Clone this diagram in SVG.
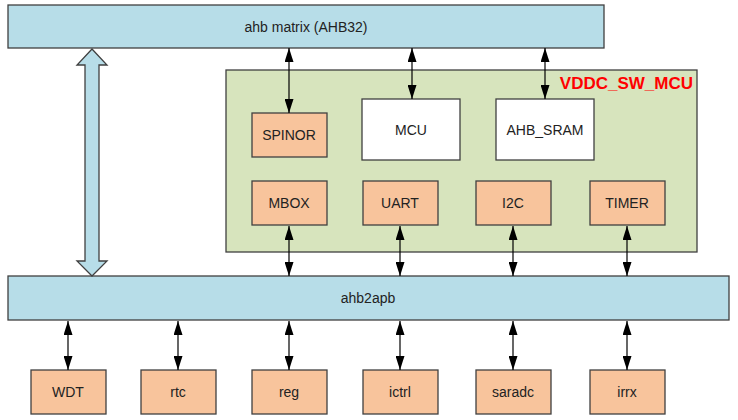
<svg xmlns="http://www.w3.org/2000/svg" width="738" height="420" viewBox="0 0 738 420">
<style>
.bus{fill:#b7dde8;stroke:#404040;stroke-width:1.3}
.per{fill:#f8c49c;stroke:#404040;stroke-width:1.3}
.wht{fill:#ffffff;stroke:#404040;stroke-width:1.3}
.grp{fill:#d7e4bd;stroke:#404040;stroke-width:1.3}
.lbl{font-family:"Liberation Sans",Arial,sans-serif;font-size:14px;fill:#222;text-anchor:middle}
.con{stroke:#000;stroke-width:1.2;fill:none;marker-start:url(#ah);marker-end:url(#ah)}
</style>
<defs>
<marker id="ah" viewBox="0 0 14 9" refX="14" refY="4.5" markerWidth="14" markerHeight="9" markerUnits="userSpaceOnUse" orient="auto-start-reverse">
<path d="M0,0 L14,4.5 L0,9 Z" fill="#000"/>
</marker>
</defs>
<rect width="738" height="420" fill="#fff"/>
<g id="ahb_matrix"><rect class="bus" x="8" y="5" width="596" height="43"/><text class="lbl" x="306" y="32">ahb matrix (AHB32)</text></g>
<g id="vddc_sw_mcu"><rect class="grp" x="226" y="70" width="471" height="182"/><text x="693" y="89" font-family="Liberation Sans,Arial,sans-serif" font-size="17" font-weight="bold" fill="#ff0000" text-anchor="end">VDDC_SW_MCU</text></g>
<g id="spinor"><rect class="per" x="252" y="113" width="75" height="44"/><text class="lbl" x="289" y="140">SPINOR</text></g>
<g id="mcu"><rect class="wht" x="362" y="99" width="98" height="61"/><text class="lbl" x="411" y="135">MCU</text></g>
<g id="ahb_sram"><rect class="wht" x="496" y="99" width="98" height="61"/><text class="lbl" x="545" y="135">AHB_SRAM</text></g>
<g id="mbox"><rect class="per" x="252" y="181" width="75" height="44"/><text class="lbl" x="289" y="208">MBOX</text></g>
<g id="uart"><rect class="per" x="363" y="181" width="75" height="44"/><text class="lbl" x="400" y="208">UART</text></g>
<g id="i2c"><rect class="per" x="476" y="181" width="75" height="44"/><text class="lbl" x="513" y="208">I2C</text></g>
<g id="timer"><rect class="per" x="590" y="181" width="75" height="44"/><text class="lbl" x="627" y="208">TIMER</text></g>
<g id="ahb2apb"><rect class="bus" x="8" y="276" width="721" height="44"/><text class="lbl" x="368" y="303">ahb2apb</text></g>
<g id="wdt"><rect class="per" x="31" y="370" width="75" height="44"/><text class="lbl" x="68" y="397">WDT</text></g>
<g id="rtc"><rect class="per" x="141" y="370" width="75" height="44"/><text class="lbl" x="178" y="397">rtc</text></g>
<g id="reg"><rect class="per" x="252" y="370" width="75" height="44"/><text class="lbl" x="289" y="397">reg</text></g>
<g id="ictrl"><rect class="per" x="363" y="370" width="75" height="44"/><text class="lbl" x="400" y="397">ictrl</text></g>
<g id="saradc"><rect class="per" x="476" y="370" width="75" height="44"/><text class="lbl" x="513" y="397">saradc</text></g>
<g id="irrx"><rect class="per" x="590" y="370" width="75" height="44"/><text class="lbl" x="627" y="397">irrx</text></g>
<g id="connectors">
<path class="bus" d="M92,49 L107,65 L99,65 L99,261 L107,261 L92,276 L77,261 L85,261 L85,65 L77,65 Z"/>
<line class="con" x1="289" y1="48" x2="289" y2="113"/>
<line class="con" x1="412" y1="48" x2="412" y2="99"/>
<line class="con" x1="545" y1="48" x2="545" y2="99"/>
<line class="con" x1="289" y1="226" x2="289" y2="276"/>
<line class="con" x1="400" y1="226" x2="400" y2="276"/>
<line class="con" x1="513" y1="226" x2="513" y2="276"/>
<line class="con" x1="627" y1="226" x2="627" y2="276"/>
<line class="con" x1="68" y1="321" x2="68" y2="370"/>
<line class="con" x1="178" y1="321" x2="178" y2="370"/>
<line class="con" x1="289" y1="321" x2="289" y2="370"/>
<line class="con" x1="400" y1="321" x2="400" y2="370"/>
<line class="con" x1="513" y1="321" x2="513" y2="370"/>
<line class="con" x1="627" y1="321" x2="627" y2="370"/>
</g>
</svg>
